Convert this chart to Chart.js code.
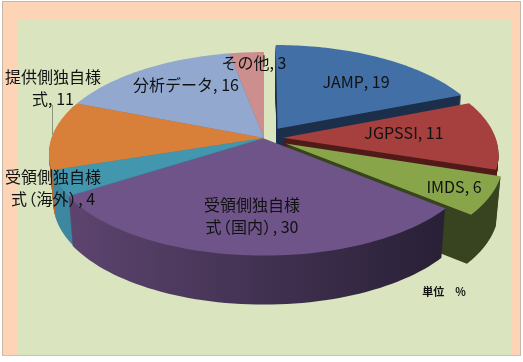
<!DOCTYPE html>
<html lang="ja">
<head>
<meta charset="utf-8">
<style>
html,body{margin:0;padding:0;background:#fff;}
#frame{position:absolute;left:2px;top:1px;width:517px;height:353px;background:#fdd4b5;border:1px solid #c9b6a6;border-bottom-color:#e8b898;}
#inner{position:absolute;left:15px;top:17px;width:494px;height:336px;background:#dae5bf;}
#wrap{position:absolute;left:0;top:0;width:523px;height:362px;}
</style>
<script src="https://cdn.jsdelivr.net/npm/chart.js@4"></script>
</head>
<body>
<div id="frame"><div id="inner"></div></div>
<div id="wrap"><canvas id="c" width="523" height="362"></canvas></div>
<script>
const categories = ["JAMP","JGPSSI","IMDS","受領側独自様式（国内）","受領側独自様式（海外）","提供側独自様式","分析データ","その他"];
const values = [19,11,6,30,4,11,16,3];
const unitLabel = "単位　%";

const topColors  = ["#426fa5","#a5403e","#88a54a","#6f5489","#4296ae","#d8803a","#92a8cf","#cd8f8e"];
const wallLeft   = ["#1b2f4a","#4f1a18","#38431f","#5e4570","#3d88a0","#b06a30","#6b7da0","#96605f"];
const wallRight  = ["#1b2f4a","#4f1a18","#38431f","#282036","#2f7488","#b06a30","#6b7da0","#96605f"];
const explode    = [0.115,0.09,0.115,0.005,0,0,0,0];
const paintOrder = [7,6,5,4,0,1,2,3];
const labelSpots = [
  {lines:["JAMP, 19"],x:356,y:82},
  {lines:["JGPSSI, 11"],x:404,y:133},
  {lines:["IMDS, 6"],x:454,y:187},
  {lines:["受領側独自様","式（国内）, 30"],x:252,y:205},
  {lines:["受領側独自様","式（海外）, 4"],x:53,y:177},
  {lines:["提供側独自様","式, 11"],x:53,y:77},
  {lines:["分析データ, 16"],x:186,y:85},
  {lines:["その他, 3"],x:254,y:63}
];

const FX = 1.54, FY = 0.718, K = 0.1526, DEPTH = 49, SHRINK = 0.98, EM = 16;

function drawTight(ctx,text,cx,y){
  const runs = [];
  let w = 0;
  for(const ch of text){
    const isOpen = ch==="（", isClose = ch==="）";
    const adv = (isOpen||isClose) ? EM*0.6 : ctx.measureText(ch).width;
    runs.push({ch,at:w-(isOpen?EM*0.4:0)});
    w += adv;
  }
  runs.forEach(r=>ctx.fillText(r.ch,cx-w/2+r.at,y));
}

const pie3d = {
  id:'pie3d',
  beforeDatasetDraw(chart,args){
    const ctx = chart.ctx, arcs = chart.getDatasetMeta(args.index).data;
    const project = (a,u,v,z)=>{
      const w = 1 - K*v;
      const s = 1 - (1-SHRINK)*z/DEPTH;
      return [a.x + s*FX*a.outerRadius*u/w, a.y + FY*a.outerRadius*v/w + z];
    };
    const slice = (a,i,z)=>{
      const mid = (a.startAngle+a.endAngle)/2;
      const ex = explode[i]*Math.cos(mid), ey = explode[i]*Math.sin(mid);
      ctx.beginPath();
      let p = project(a,ex,ey,z); ctx.moveTo(p[0],p[1]);
      const n = 60;
      for(let t=0;t<=n;t++){
        const ang = a.startAngle+(a.endAngle-a.startAngle)*t/n;
        p = project(a,ex+Math.cos(ang),ey+Math.sin(ang),z);
        ctx.lineTo(p[0],p[1]);
      }
      ctx.closePath();
    };
    ctx.save();
    paintOrder.forEach(i=>{
      const a = arcs[i];
      const g = ctx.createLinearGradient(60,0,445,0);
      g.addColorStop(0,wallLeft[i]); g.addColorStop(1,wallRight[i]);
      ctx.fillStyle = g;
      for(let z=DEPTH;z>0;z--){ slice(a,i,z); ctx.fill(); }
      slice(a,i,0); ctx.fillStyle = topColors[i]; ctx.fill();
    });
    ctx.restore();
    return false;
  },
  afterDatasetsDraw(chart){
    const ctx = chart.ctx;
    ctx.save();
    ctx.strokeStyle = "#8d9484"; ctx.lineWidth = 1;
    ctx.beginPath(); ctx.moveTo(52.5,105); ctx.lineTo(52.5,135); ctx.stroke();
    ctx.fillStyle = "#111"; ctx.textAlign = "left"; ctx.textBaseline = "middle";
    ctx.font = EM+'px "Noto Sans CJK JP"';
    labelSpots.forEach(s=>{
      s.lines.forEach((t,j)=>drawTight(ctx,t,s.x,s.y+j*21.5));
    });
    ctx.textAlign = "center";
    ctx.font = 'bold 11px "Noto Sans CJK JP"';
    ctx.fillText(unitLabel,444,292);
    ctx.restore();
  }
};

new Chart(document.getElementById('c'),{
  type:'pie',
  data:{labels:categories,datasets:[{data:values,backgroundColor:topColors,borderWidth:0}]},
  options:{
    responsive:false,animation:false,
    layout:{padding:{bottom:86,left:5}},
    plugins:{legend:{display:false},tooltip:{enabled:false}}
  },
  plugins:[pie3d]
});
</script>
</body>
</html>
